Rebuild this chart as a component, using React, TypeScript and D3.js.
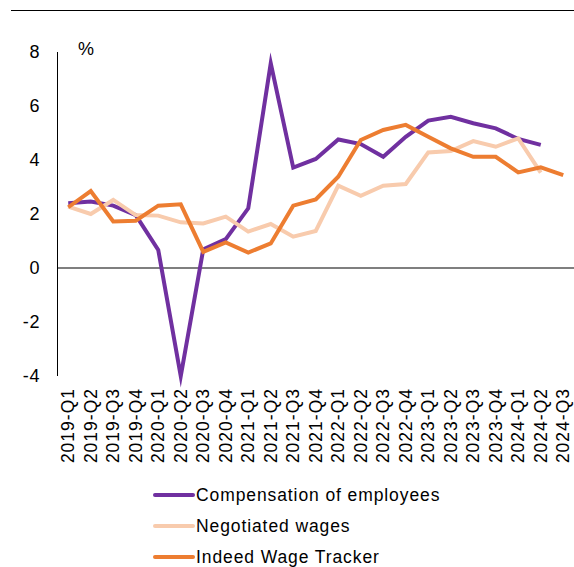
import React from "react";
import * as d3 from "d3";

const categories = [
  "2019-Q1","2019-Q2","2019-Q3","2019-Q4",
  "2020-Q1","2020-Q2","2020-Q3","2020-Q4",
  "2021-Q1","2021-Q2","2021-Q3","2021-Q4",
  "2022-Q1","2022-Q2","2022-Q3","2022-Q4",
  "2023-Q1","2023-Q2","2023-Q3","2023-Q4",
  "2024-Q1","2024-Q2","2024-Q3",
];

const compensation: (number | null)[] = [
  2.40, 2.46, 2.31, 1.96, 0.67, -4.0, 0.69, 1.07, 2.21, 7.58, 3.72, 4.04,
  4.76, 4.59, 4.12, 4.86, 5.46, 5.60, 5.36, 5.17, 4.78, 4.56, null,
];
const negotiated: (number | null)[] = [
  2.27, 2.00, 2.52, 1.96, 1.94, 1.69, 1.65, 1.90, 1.35, 1.63, 1.16, 1.37,
  3.05, 2.67, 3.05, 3.11, 4.28, 4.33, 4.70, 4.49, 4.80, 3.53, null,
];
const indeed: (number | null)[] = [
  2.25, 2.85, 1.72, 1.75, 2.31, 2.36, 0.60, 0.95, 0.57, 0.91, 2.31, 2.54,
  3.38, 4.74, 5.11, 5.30, 4.86, 4.43, 4.12, 4.12, 3.54, 3.73, 3.44,
];

const yTicks = [8, 6, 4, 2, 0, -2, -4];

const seriesNames = ["Compensation of employees", "Negotiated wages", "Indeed Wage Tracker"];
const seriesColors = ["#7030A0", "#F8CBAD", "#ED7D31"];
const seriesData = [compensation, negotiated, indeed];

const W = 574;
const H = 567;
const FONT = "'Liberation Sans', Arial, sans-serif";

export default function App() {
  const x = d3.scalePoint<string>().domain(categories).range([68.25, 563.25]);
  const y = d3.scaleLinear().domain([-4, 8]).range([376, 52]);

  const line = d3
    .line<number | null>()
    .defined((d) => d !== null)
    .x((_, i) => x(categories[i]) as number)
    .y((d) => y(d as number));

  const drawOrder = [0, 1, 2];

  return (
    <svg
      width={W}
      height={H}
      style={{ position: "absolute", left: 0, top: 0, background: "#fff" }}
      fontFamily={FONT}
    >
      <line x1={11} x2={574} y1={10.5} y2={10.5} stroke="#000" strokeWidth={1} />

      {/* y axis */}
      <line x1={57.5} x2={57.5} y1={y(8)} y2={y(-4)} stroke="#000" strokeWidth={1} />
      {yTicks.map((t) => (
        <text
          key={t}
          x={40}
          y={y(t)}
          dy="0.36em"
          textAnchor="end"
          fontSize={18}
          letterSpacing={0.6}
          fill="#000"
        >
          {t}
        </text>
      ))}
      <text x={78} y={55} fontSize={18} fill="#000">%</text>

      {/* zero line */}
      <line x1={58} x2={574} y1={y(0)} y2={y(0)} stroke="#7f7f7f" strokeWidth={1.8} />

      {/* x labels */}
      {categories.map((c) => (
        <text
          key={c}
          transform={`translate(${(x(c) as number) + 6},388) rotate(-90)`}
          textAnchor="end"
          fontSize={17.5}
          letterSpacing={1}
          fill="#000"
        >
          {c}
        </text>
      ))}

      {/* series */}
      {drawOrder.map((i) => (
        <path
          key={seriesNames[i]}
          d={line(seriesData[i]) || ""}
          fill="none"
          stroke={seriesColors[i]}
          strokeWidth={4}
          strokeLinejoin="miter"
          strokeMiterlimit={10}
        />
      ))}

      {/* legend */}
      {seriesNames.map((n, i) => {
        const ly = 495 + i * 31;
        return (
          <g key={n}>
            <line
              x1={155}
              x2={193}
              y1={ly}
              y2={ly}
              stroke={seriesColors[i]}
              strokeWidth={4}
              strokeLinecap="round"
            />
            <text x={196} y={ly} dy="0.36em" fontSize={17.5} letterSpacing={0.9} fill="#000">
              {n}
            </text>
          </g>
        );
      })}
    </svg>
  );
}
